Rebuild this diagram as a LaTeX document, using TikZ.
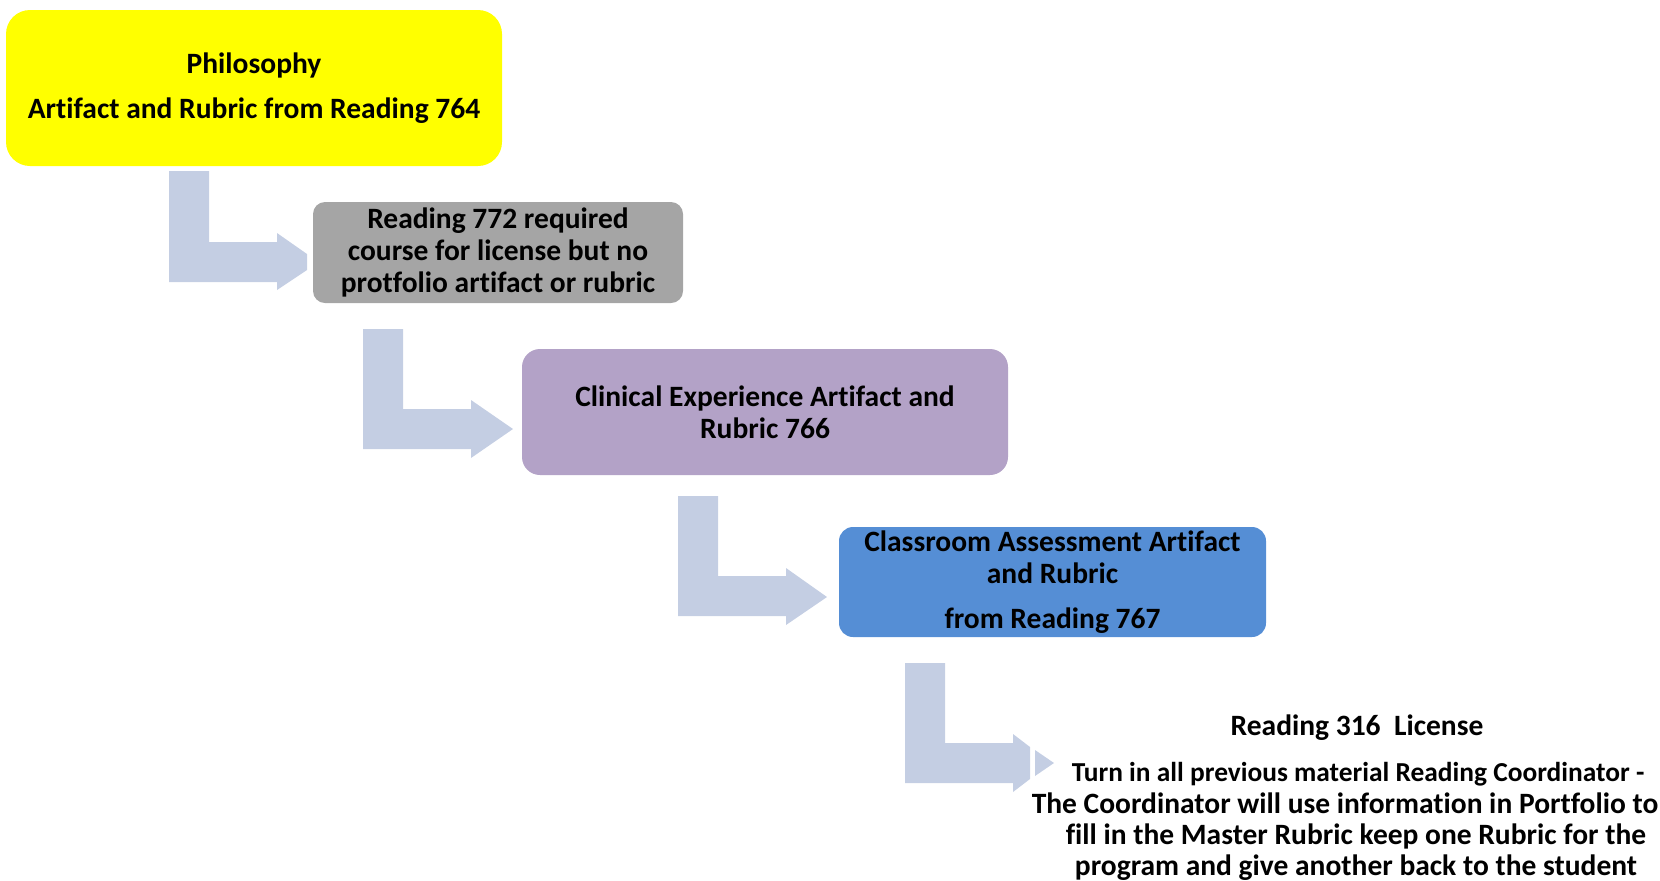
\documentclass[tikz,border=0pt]{standalone}
\usepackage{fontspec}
\setmainfont{Carlito}[Ligatures=NoCommon]
\definecolor{boxyellow}{HTML}{FFFF00}
\definecolor{boxgray}{HTML}{A5A5A5}
\definecolor{boxpurple}{HTML}{B3A2C7}
\definecolor{boxblue}{HTML}{558ED5}
\definecolor{arrowblue}{HTML}{C4CEE3}
\begin{document}
\begin{tikzpicture}[x=0.5pt,y=-0.5pt,
  stagebox/.style={rounded corners=#1, inner sep=0pt, align=center,
    font=\bfseries\fontsize{14.75}{16.1}\selectfont, text=black},
  bentarrow/.style={fill=arrowblue, draw=none}]
\useasboundingbox (0,0) rectangle (1660,880);
% boxes
\node[stagebox=12pt, fill=boxyellow, minimum width=248pt, minimum height=78pt]
  (b1) at (254,88) {Philosophy\\[6.7pt]Artifact and Rubric from Reading 764};
\node[stagebox=6pt, fill=boxgray, minimum width=185pt, minimum height=50.5pt]
  (b2) at (498,252.5) {Reading 772 required\\course for license but no\\protfolio artifact or rubric};
\node[stagebox=9pt, fill=boxpurple, minimum width=243pt, minimum height=63pt]
  (b3) at (765,412) {Clinical Experience Artifact and\\Rubric 766};
\node[stagebox=7pt, fill=boxblue, minimum width=213.5pt, minimum height=55pt]
  (b4) at (1052.5,582) {\fontsize{14.75}{15.9}\selectfont Classroom Assessment Artifact\\and Rubric\\[6.3pt]from Reading 767};
\node[stagebox=0pt, anchor=north] (b5) at (1345,714)
  {\hspace*{12pt}Reading 316\ \ License\\[7.2pt]\fontsize{13.7}{15.3}\selectfont
   \hspace*{13pt}Turn in all previous material Reading Coordinator -\\[-0.4pt]
   The Coordinator will use information in Portfolio to\\[-0.4pt]
   \hspace*{11pt}fill in the Master Rubric keep one Rubric for the\\[-0.4pt]
   \hspace*{11pt}program and give another back to the student};
% bent arrows
\fill[bentarrow] (169,171) -- (209,171) -- (209,242) -- (277,242) -- (277,233) -- (307,254)
  -- (307,270) -- (277,290) -- (277,282) -- (169,282) -- cycle;
\fill[bentarrow] (363,329) -- (403,329) -- (403,409) -- (471,409) -- (471,400) -- (513,429)
  -- (471,458) -- (471,449) -- (363,449) -- cycle;
\fill[bentarrow] (678,496) -- (718,496) -- (718,576) -- (786,576) -- (786,568) -- (827,597)
  -- (786,625) -- (786,616) -- (678,616) -- cycle;
\fill[bentarrow] (905,663) -- (945,663) -- (945,743) -- (1013,743) -- (1013,734) -- (1030,747)
  -- (1030,779) -- (1013,792) -- (1013,783) -- (905,783) -- cycle;
\fill[bentarrow] (1035,750) -- (1054,763) -- (1035,776) -- cycle;
\end{tikzpicture}
\end{document}
